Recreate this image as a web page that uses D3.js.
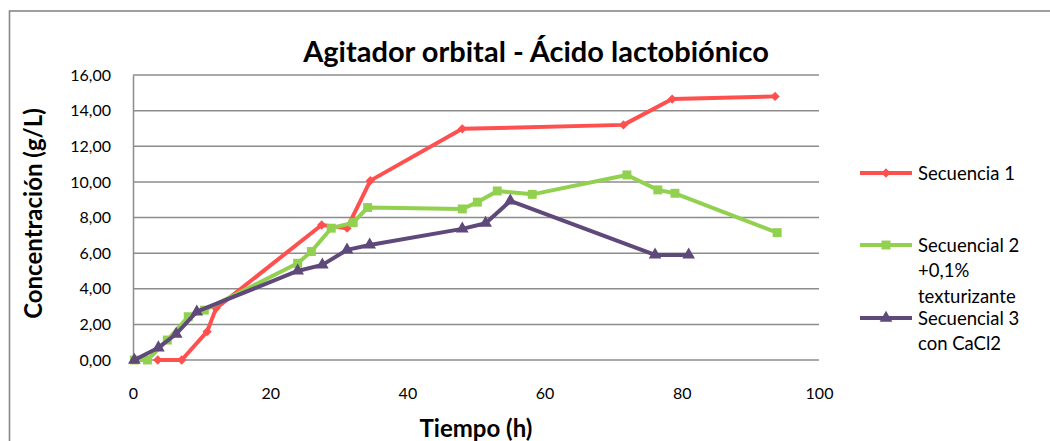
<!DOCTYPE html>
<html>
<head>
<meta charset="utf-8">
<script src="https://cdn.jsdelivr.net/npm/d3@7"></script>
<style>
  body { margin: 0; background: #fff; }
  svg { font-family: Lato, "Open Sans", sans-serif; }
</style>
</head>
<body>
<div id="root"></div>
<script>
// data
const seriesNames = ["Secuencia 1", "Secuencial 2 +0,1% texturizante", "Secuencial 3 con CaCl2"];
const legendLines = [["Secuencia 1"], ["Secuencial 2", "+0,1%", "texturizante"], ["Secuencial 3", "con CaCl2"]];
const colors = ["#ff5050", "#92d050", "#5f497a"];
const markers = ["diamond", "square", "triangle"];

const s1Time = [3.6, 7.1, 10.8, 12.1, 27.5, 31.2, 34.6, 48, 71.5, 78.6, 93.6];
const s1Conc = [0, 0, 1.59, 2.9, 7.58, 7.4, 10.07, 12.98, 13.2, 14.65, 14.8];

const s2Time = [0.2, 2.1, 5.0, 8.05, 10.4, 24, 26, 28.9, 32.1, 34.2, 48, 50.2, 53.1, 58.2, 72, 76.5, 79, 93.9];
const s2Conc = [0, 0, 1.12, 2.43, 2.8, 5.43, 6.09, 7.4, 7.71, 8.56, 8.48, 8.86, 9.49, 9.3, 10.39, 9.55, 9.36, 7.15];

const s3Time = [0.2, 3.7, 6.3, 9.3, 24, 27.6, 31.2, 34.5, 48, 51.4, 55, 76.1, 81];
const s3Conc = [0, 0.69, 1.46, 2.71, 5.0, 5.34, 6.18, 6.46, 7.36, 7.68, 8.93, 5.9, 5.9];

const xTicks = [0, 20, 40, 60, 80, 100];
const yTicks = [0, 2, 4, 6, 8, 10, 12, 14, 16];

const series = [
  s1Time.map((t, i) => [t, s1Conc[i]]),
  s2Time.map((t, i) => [t, s2Conc[i]]),
  s3Time.map((t, i) => [t, s3Conc[i]])
];

const width = 1050;
const height = 441;
const margin = { left: 133, top: 75, right: 819, bottom: 360 };

const svg = d3.select("#root")
  .append("svg")
  .attr("width", width)
  .attr("height", height);

// outer chart frame
svg.append("rect")
  .attr("x", 9.5)
  .attr("y", 11)
  .attr("width", 1100)
  .attr("height", 500)
  .attr("fill", "none")
  .attr("stroke", "#888")
  .attr("stroke-width", 1.6);

const x = d3.scaleLinear().domain([0, 100]).range([margin.left, margin.right]);
const y = d3.scaleLinear().domain([0, 16]).range([margin.bottom, margin.top]);

// gridlines
svg.append("g")
  .selectAll("line")
  .data(yTicks)
  .enter()
  .append("line")
  .attr("x1", margin.left)
  .attr("x2", margin.right)
  .attr("y1", d => y(d))
  .attr("y2", d => y(d))
  .attr("stroke", "#8c8c8c")
  .attr("stroke-width", 1.5);

// axes
const fmt = d => d3.format(".2f")(d).replace(".", ",");
const yAxis = svg.append("g")
  .attr("transform", `translate(${margin.left},0)`)
  .call(d3.axisLeft(y).tickValues(yTicks).tickFormat(fmt).tickSize(0).tickPadding(22));
yAxis.select(".domain").attr("stroke", "#8c8c8c").attr("stroke-width", 1.5);

const xAxis = svg.append("g")
  .attr("transform", `translate(0,${margin.bottom})`)
  .call(d3.axisBottom(x).tickValues(xTicks).tickSize(0).tickPadding(28));
xAxis.select(".domain").remove();

svg.selectAll(".tick text")
  .attr("font-family", "Lato, sans-serif")
  .attr("font-size", 16)
  .attr("fill", "#000");

// titles
svg.append("text")
  .attr("x", 536)
  .attr("y", 62)
  .attr("text-anchor", "middle")
  .attr("font-size", 29)
  .attr("font-weight", "bold")
  .text("Agitador orbital - Ácido lactobiónico");

svg.append("text")
  .attr("x", 476)
  .attr("y", 437)
  .attr("text-anchor", "middle")
  .attr("font-size", 24)
  .attr("font-weight", "bold")
  .text("Tiempo (h)");

svg.append("text")
  .attr("transform", `translate(42,${(margin.top + margin.bottom) / 2 - 4}) rotate(-90)`)
  .attr("text-anchor", "middle")
  .attr("font-size", 24)
  .attr("font-weight", "bold")
  .text("Concentración (g/L)");

const symbolType = {
  diamond: d3.symbolDiamond2,
  square: d3.symbolSquare,
  triangle: d3.symbolTriangle
};
const symbolSize = { diamond: 55, square: 80, triangle: 70 };

const line = d3.line().x(d => x(d[0])).y(d => y(d[1]));

series.forEach((data, i) => {
  const g = svg.append("g");
  g.append("path")
    .datum(data)
    .attr("d", line)
    .attr("fill", "none")
    .attr("stroke", colors[i])
    .attr("stroke-width", 4)
    .attr("stroke-linejoin", "round");
  g.selectAll("path.pt")
    .data(data)
    .enter()
    .append("path")
    .attr("class", "pt")
    .attr("transform", d => `translate(${x(d[0])},${y(d[1])})`)
    .attr("d", d3.symbol().type(symbolType[markers[i]]).size(symbolSize[markers[i]]))
    .attr("fill", colors[i]);
});

// legend
const legendY = [173, 245, 318];
legendLines.forEach((lines, i) => {
  const g = svg.append("g").attr("transform", `translate(860,${legendY[i]})`);
  g.append("line")
    .attr("x1", 0).attr("x2", 52)
    .attr("stroke", colors[i])
    .attr("stroke-width", 4);
  g.append("path")
    .attr("transform", "translate(26,0)")
    .attr("d", d3.symbol().type(symbolType[markers[i]]).size(symbolSize[markers[i]]))
    .attr("fill", colors[i]);
  const t = g.append("text")
    .attr("x", 58)
    .attr("y", 6.5)
    .attr("font-size", 18.5);
  lines.forEach((s, j) => {
    t.append("tspan").attr("x", 58).attr("dy", j === 0 ? 0 : 25.5).text(s);
  });
});
</script>
</body>
</html>
